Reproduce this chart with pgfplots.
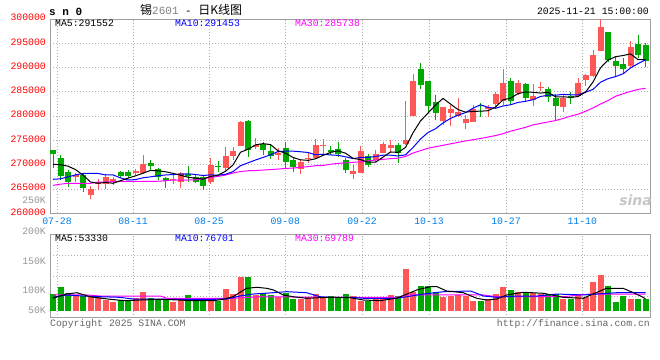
\documentclass[border=0pt]{standalone}
\usepackage{pgfplots}
\pgfplotsset{compat=1.18}
\usepackage{pgfplotstable}
\usepackage{fontspec}
\setmainfont{Liberation Mono}
\newfontfamily\cjk{Noto Sans CJK SC}
\newfontfamily\logofont{DejaVu Sans}
\definecolor{cred}{RGB}{255,86,86}
\definecolor{cgreen}{RGB}{0,168,0}
\definecolor{cframe}{RGB}{160,160,160}
\definecolor{cgrid}{RGB}{175,175,175}
\definecolor{cdate}{RGB}{0,125,230}
\definecolor{cmag}{RGB}{255,0,255}
\definecolor{cblue}{RGB}{0,0,255}
\definecolor{cytick}{RGB}{255,0,0}
\definecolor{cvtick}{RGB}{150,150,150}
\definecolor{ccopy}{RGB}{100,100,100}
\newcommand{\tfont}{\fontsize{9.8bp}{11bp}\selectfont}

% rising (red) candles: open high low close volume(K)
\pgfplotstableread{
i O H L C V
2 267400 268220 266500 267870 90.0
4 263820 265610 262880 265000 88.8
5 266020 267050 264790 266370 87.8
6 266020 268080 264930 267400 83.3
7 266440 267520 265820 266990 80.5
10 268220 269110 267870 268700 87.2
11 268350 271990 268080 270140 97.2
15 266850 267870 266020 267110 80.5
16 266500 268550 265140 268220 83.3
20 266500 271310 266020 269930 86.2
22 269250 273690 268760 271780 101.7
23 271840 273690 270960 272810 93.3
24 273900 278980 273900 278830 121.2
26 273570 275540 273160 274040 91.7
29 271990 273360 270960 272460 87.8
32 269110 270960 268080 270550 85.0
33 271100 272660 270280 271310 87.8
34 271310 275210 271160 274040 93.3
35 273900 275210 272190 274100 87.8
39 268080 269930 266990 268700 90.0
40 268350 273840 268220 272870 81.7
42 270960 273010 270490 272130 85.0
43 272460 274720 272340 274190 85.0
44 273490 275070 272340 274040 91.7
46 274190 283150 274040 275070 135.0
47 280070 288640 280070 287200 97.2
51 278980 281920 278150 281920 88.8
52 280560 282270 278010 281440 90.0
53 280070 283640 279860 280770 91.7
54 278500 280210 277270 279390 90.0
55 278830 282270 278830 281440 81.7
57 281440 282270 279860 281920 85.0
58 282470 285000 281920 284530 93.3
59 283090 289670 282270 286850 104.5
61 284670 287410 284320 286790 97.2
63 283290 286580 282120 284180 95.5
64 285700 287060 285150 286030 93.3
67 281920 284320 280890 283640 85.0
69 284180 287880 283970 286850 93.3
70 287410 288780 286230 288430 87.8
71 288290 293570 288080 292550 113.8
72 293430 299950 293430 298370 125.0
76 290280 295420 290140 294250 85.0
}\upT

% falling (green) candles
\pgfplotstableread{
i O H L C V
-1 273010 273100 269250 272130 93.3
0 271430 271990 266850 267730 105.5
1 268550 268900 265350 266500 95.5
3 267870 268220 264440 265140 90.0
8 268430 268760 267200 267730 83.3
9 268550 268900 267320 267730 83.3
12 270400 270960 268900 269790 86.2
13 269110 269380 266850 267400 85.0
14 267320 267520 265140 266700 83.3
17 268080 269720 266500 267730 91.7
18 267520 268080 266170 266370 81.7
19 267400 267870 264790 265670 81.7
21 269720 270750 268550 269520 81.7
25 278980 279180 271510 273010 121.2
27 274190 274600 271990 273010 95.5
28 272810 274250 271160 271840 91.7
30 273430 274600 269110 270610 95.5
31 270960 271640 268550 269580 85.0
36 273010 273840 271990 272660 90.0
37 273220 274720 271640 272190 87.8
38 270960 271310 268350 268900 93.3
41 271780 272190 269460 269930 81.7
45 274040 274390 270400 272340 90.0
48 289670 290960 285490 286440 106.7
49 287200 287200 280560 282120 106.7
50 282820 284320 279180 280560 97.2
56 282270 282620 279860 282060 81.7
60 287200 287880 282270 283090 100.0
62 286580 286850 282820 283640 95.5
65 285560 286030 282820 283970 93.3
66 283770 284530 279180 282120 93.3
68 284180 285000 282410 283640 85.0
73 297340 297340 291050 291520 106.7
74 291310 292200 288290 290350 80.5
75 290700 291870 288640 289610 90.0
77 294810 296660 291870 292550 85.0
78 294600 295160 290140 291370 85.0
}\dnT

% price moving averages
\pgfplotstableread{
i ma5 ma10 ma30
-1 270100 267000 265760
0 270000 267100 266000
1 269700 267500 266170
2 269000 267900 266170
3 267870 268200 266170
4 266450 268200 266170
5 266180 268200 266440
6 266360 267900 266440
7 266180 267900 266500
8 266700 267290 266580
9 267240 266850 266580
10 267710 266940 266580
11 268260 267310 266580
12 268820 267500 266580
13 268750 267730 266600
14 268550 267900 266700
15 268230 267970 266850
16 267840 268050 266850
17 267430 268130 266850
18 267230 267990 266900
19 267020 267780 267100
20 267580 267910 267400
21 267840 267840 267600
22 268650 268040 267870
23 269940 268580 268300
24 272570 269800 268600
25 273190 270390 268760
26 274090 270970 268800
27 274340 271500 268900
28 274150 272040 269000
29 272870 272720 269100
30 272390 272790 269250
31 271500 272800 269300
32 271010 272670 269500
33 270900 272520 269600
34 271220 272050 269790
35 271920 272150 269850
36 272530 272020 270100
37 272860 271930 270280
38 272380 271640 270400
39 271310 271260 270500
40 271060 271490 270600
41 270520 271530 270800
42 270510 271680 270960
43 271560 271970 271100
44 272630 271970 271250
45 272530 271800 271350
46 273550 272040 271700
47 276570 273540 272400
48 279020 275290 272900
49 280630 276630 273400
50 282280 277400 273700
51 283650 278600 274000
52 282500 279530 274300
53 281360 280190 274600
54 280820 280730 274900
55 280990 281640 275150
56 281020 282330 275400
57 281120 281810 275700
58 281870 281620 276000
59 283360 282090 276400
60 283690 282340 276900
61 284640 282830 277300
62 284980 283050 277700
63 284910 283390 278200
64 284750 284050 278500
65 284920 284310 278800
66 283990 284310 279100
67 283990 284480 279500
68 283880 284400 280000
69 284040 284400 280400
70 284940 284930 281000
71 287020 285510 281700
72 289970 286980 282500
73 291540 287710 283200
74 292240 288140 284100
75 292480 288710 284600
76 292820 289920 285100
77 291660 290810 285500
78 291630 291590 285740
}\maT

\pgfplotsset{
  kpanel/.style={
    scale only axis, width=600bp,
    xmin=-1.4, xmax=78.6,
    axis line style={cframe, line width=1bp},
    major tick length=0pt,
    xtick={-0.47,9.67,19.8,29.97,40.2,49.13,59.4,69.57},
    xmajorgrids, ymajorgrids,
    major grid style={cgrid, line width=0.9bp, dash pattern=on 1bp off 2bp},
    tick label style={font=\tfont},
    scaled y ticks=false,
  },
  candle/.style 2 args={draw=none, mark=none, forget plot,
    error bars/.cd, y dir=plus, y explicit, error mark=none,
    error bar style={draw=#1, line width=#2, solid}},
}

\begin{document}
\begin{tikzpicture}
\path[use as bounding box] (0,0) rectangle (660bp,-360bp);

% ---------------- price panel ----------------
\begin{axis}[kpanel, at={(50bp,-213.3bp)}, anchor=south west, height=194.3bp,
  ymin=260000, ymax=300000,
  ytick={260000,265000,270000,275000,280000,285000,290000,295000,300000},
  yticklabels={260000,265000,270000,275000,280000,285000,290000,295000,300000},
  yticklabel style={cytick, anchor=east, inner sep=0pt, xshift=-4bp, yshift=1.5bp},
  xticklabels={07-28,08-11,08-25,09-08,09-22,10-13,10-27,11-10},
  xticklabel style={cdate, anchor=north, inner sep=0pt, yshift=-4bp},
]
\addplot[candle={cred}{1bp}] table[x=i, y=L, y error plus expr=\thisrow{H}-\thisrow{L}] {\upT};
\addplot[candle={cgreen}{1bp}] table[x=i, y=L, y error plus expr=\thisrow{H}-\thisrow{L}] {\dnT};
\addplot[candle={cred}{6bp}] table[x=i, y=O, y error plus expr=\thisrow{C}-\thisrow{O}] {\upT};
\addplot[candle={cgreen}{6bp}] table[x=i, y=C, y error plus expr=\thisrow{O}-\thisrow{C}] {\dnT};
\addplot[cmag, line width=1bp, mark=none] table[x=i, y=ma30] {\maT};
\addplot[cblue, line width=1bp, mark=none] table[x=i, y=ma10] {\maT};
\addplot[black, line width=1bp, mark=none] table[x=i, y=ma5] {\maT};
\end{axis}

% ---------------- volume panel ----------------
\begin{axis}[kpanel, at={(50bp,-317.7bp)}, anchor=south west, height=83.4bp,
  ymin=53.83, ymax=192.83, ytick={88.6,123.3,158.1},
  yticklabels={,,}, xticklabels={,,,,,,,},
]
\addplot[candle={cred}{6bp}] table[x=i, y expr=65.5, y error plus expr=\thisrow{V}-65.5] {\upT};
\addplot[candle={cgreen}{6bp}] table[x=i, y expr=65.5, y error plus expr=\thisrow{V}-65.5] {\dnT};
\addplot[cmag, line width=1bp, mark=none] coordinates {(-1,91.7) (3.5,91.7) (5.3,90) (13.3,90) (14.2,86.2) (23,86.2) (26.6,88.8) (35.9,87.8) (44.8,87.8) (46.2,91.7) (56.4,91.7) (58.2,88.8) (67,88.8) (70.6,93.3) (78,93.3)};
\addplot[cblue, line width=1bp, mark=none] coordinates {(-1,87.8) (0.8,91.7) (3,90) (5.3,88.8) (7.9,87.8) (9.7,85) (13.3,85) (14.2,84.5) (20.4,84.5) (22.2,85) (23.9,90) (25.7,93.3) (28.4,95.5) (30.2,97.2) (32.8,95.5) (34.6,88.8) (35.9,87.8) (38.6,87.8) (40.4,86.2) (44.8,86.2) (46.2,88.8) (48.4,93.3) (51.1,97.2) (54.7,98.3) (56.4,90) (58.2,87.8) (60.9,90) (63.6,90) (66.2,93.3) (69.7,91.7) (71.5,93.3) (74.2,95.5) (78,95.5)};
\addplot[black, line width=1bp, mark=none] coordinates {(-1,86.2) (0.8,93.3) (2.2,95.5) (3.9,88.8) (6.6,84.5) (8.6,82.2) (10.6,83.3) (13.3,84.5) (15.9,83.3) (17.7,82.2) (20.4,82.2) (21.7,84.5) (23,88.8) (24.8,102.8) (26.2,104.5) (27.5,102.8) (28.4,100) (29.7,91.7) (31,88.8) (32.8,86.2) (34.6,87.2) (35.9,87.8) (38.6,87.2) (40.4,83.3) (42.6,82.2) (44.8,86.2) (46.2,93.3) (47.5,100) (49.3,105.5) (50.2,105.5) (51.5,98.3) (53.7,95.5) (55.5,86.2) (56.8,83.3) (58.2,85) (59.5,91.7) (61.7,96.2) (64.4,94.5) (67,87.8) (69.7,86.2) (71,93.3) (72.8,102.8) (75,102.8) (76.4,95.5) (77.7,87.8) (78,85)};
\end{axis}

% ---------------- texts ----------------
\node[anchor=west, inner sep=0pt, font=\fontsize{11bp}{12bp}\selectfont\bfseries] at (49bp,-12bp) {s n 0};
\node[anchor=west, inner sep=0pt] at (140bp,-10bp) {{\cjk\fontsize{12bp}{13bp}\selectfont 锡}{\color{gray}\fontsize{11bp}{12bp}\selectfont 2601}\fontsize{11bp}{12bp}\selectfont{} - {\cjk\fontsize{12bp}{13bp}\selectfont 日K线图}};
\node[anchor=east, inner sep=0pt, font=\tfont] at (649bp,-11bp) {2025-11-21 15:00:00};
\node[anchor=west, inner sep=0pt, font=\tfont] at (55bp,-23.4bp) {MA5:291552};
\node[anchor=west, inner sep=0pt, font=\tfont, text=cblue] at (175bp,-23.4bp) {MA10:291453};
\node[anchor=west, inner sep=0pt, font=\tfont, text=cmag] at (295bp,-23.4bp) {MA30:285738};
\node[anchor=west, inner sep=0pt, font=\tfont] at (55bp,-238.3bp) {MA5:53330};
\node[anchor=west, inner sep=0pt, font=\tfont, text=cblue] at (175bp,-238.3bp) {MA10:76701};
\node[anchor=west, inner sep=0pt, font=\tfont, text=cmag] at (295bp,-238.3bp) {MA30:69789};
\node[anchor=east, inner sep=0pt, font=\tfont, text=cvtick] at (46bp,-200bp) {250K};
\node[anchor=east, inner sep=0pt, font=\tfont, text=cvtick] at (46bp,-231bp) {200K};
\node[anchor=east, inner sep=0pt, font=\tfont, text=cvtick] at (46bp,-261bp) {150K};
\node[anchor=east, inner sep=0pt, font=\tfont, text=cvtick] at (46bp,-290bp) {100K};
\node[anchor=east, inner sep=0pt, font=\tfont, text=cvtick] at (46bp,-310bp) {50K};
\node[anchor=west, inner sep=0pt, font=\tfont, text=ccopy] at (50bp,-323.7bp) {Copyright 2025 SINA.COM};
\node[anchor=east, inner sep=0pt, font=\tfont, text=ccopy] at (650bp,-323.7bp) {http://finance.sina.com.cn};
\node[anchor=east, inner sep=0pt, text=black!22, font=\logofont\bfseries\itshape\fontsize{14bp}{14bp}\selectfont] at (652bp,-200bp) {sina};
\end{tikzpicture}
\end{document}
